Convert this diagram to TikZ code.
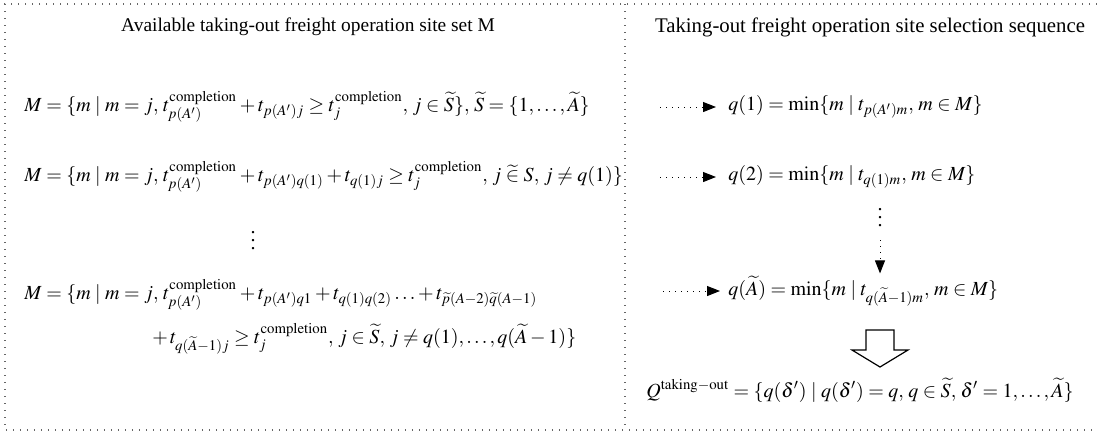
\documentclass[tikz,border=0pt]{standalone}
\usepackage{mathptmx}
\usepackage[no-math]{fontspec}
\setmainfont{Liberation Serif}
\usetikzlibrary{arrows.meta,positioning}

\newcommand{\tcomp}{t^{\mathrm{completion}}}

\tikzset{
  frameline/.style={black!60,line width=0.6pt,dash pattern=on 0.6pt off 2.9pt},
  heading/.style={inner sep=1pt,font=\fontsize{9.7}{11}\selectfont},
  eq/.style={inner sep=1pt,font=\fontsize{10}{12}\selectfont},
  flowarrow/.style={line width=0.5pt,dash pattern=on 0.5pt off 2.5pt,
    -{Triangle[length=6.5pt,width=5pt]}},
  hollowarrow/.style={line width=0.6pt,fill=white},
}

\begin{document}
\begin{tikzpicture}[x=0.5pt,y=-0.5pt]
  \useasboundingbox (0,0) rectangle (1097,436);
  % dotted frame and divider
  \draw[frameline] (1097,4) -- (5,4) -- (5,430) -- (1097,430);
  \draw[frameline] (625,4) -- (625,430);

  % left: set M
  \node[heading] (ltitle) at (308,27) {Available taking-out freight operation site set M};
  \node[eq,anchor=west] (m1) at (22,107)
    {$M=\{m \mid m=j,\, \tcomp_{p(A')}+t_{p(A')j}\geq \tcomp_{j},\, j\in\widetilde{S}\},\, \widetilde{S}=\{1,\ldots,\widetilde{A}\}$};
  \node[eq,anchor=west] (m2) at (22,177)
    {$M=\{m \mid m=j,\, \tcomp_{p(A')}+t_{p(A')q(1)}+t_{q(1)j}\geq \tcomp_{j},\, j\mathrel{\widetilde{\in}}S,\, j\neq q(1)\}$};
  \node[eq] (mdots) at (253,235) {$\vdots$};
  \node[eq,anchor=west] (m3) at (22,295)
    {$M=\{m \mid m=j,\, \tcomp_{p(A')}+t_{p(A')q1}+t_{q(1)q(2)}\ldots+t_{\widetilde{p}(A-2)\widetilde{q}(A-1)}$};
  \node[eq,anchor=west] (m3b) at (150,339)
    {$+\,t_{q(\widetilde{A}-1)j}\geq \tcomp_{j},\, j\in\widetilde{S},\, j\neq q(1),\ldots,q(\widetilde{A}-1)\}$};

  % right: selection sequence
  \node[heading,font=\fontsize{10.4}{12}\selectfont] (rtitle) at (870,27)
    {Taking-out freight operation site selection sequence};
  \node[eq,anchor=west] (q1) at (726,107) {$q(1)=\min\{m \mid t_{p(A')m},\, m\in M\}$};
  \node[eq,anchor=west] (q2) at (726,177) {$q(2)=\min\{m \mid t_{q(1)m},\, m\in M\}$};
  \node[eq] (qdots) at (880,212) {$\vdots$};
  \node[eq,anchor=west] (qA) at (726,291) {$q(\widetilde{A})=\min\{m \mid t_{q(\widetilde{A}-1)m},\, m\in M\}$};
  \node[eq] (qset) at (860,390)
    {$Q^{\mathrm{taking-out}}=\{q(\delta') \mid q(\delta')=q,\, q\in\widetilde{S},\, \delta'=1,\ldots,\widetilde{A}\}$};

  \coordinate (s1) at (660,107);
  \coordinate (s2) at (660,177);
  \coordinate (s3) at (663,291);
  \coordinate (s4) at (880,240);
  \draw[flowarrow] (s1) -- ([xshift=-5pt]s1 -| q1.west);
  \draw[flowarrow] (s2) -- ([xshift=-5pt]s2 -| q2.west);
  \draw[flowarrow] (s3) -- ([xshift=-3pt]s3 -| qA.west);
  \draw[flowarrow] (s4) -- (s4 |- qA.north);

  % hollow arrow down to Q
  \draw[hollowarrow] (866,330) -- (894,330) -- (894,350) -- (908,350)
    -- (880,367) -- (852,350) -- (866,350) -- cycle;
\end{tikzpicture}
\end{document}
